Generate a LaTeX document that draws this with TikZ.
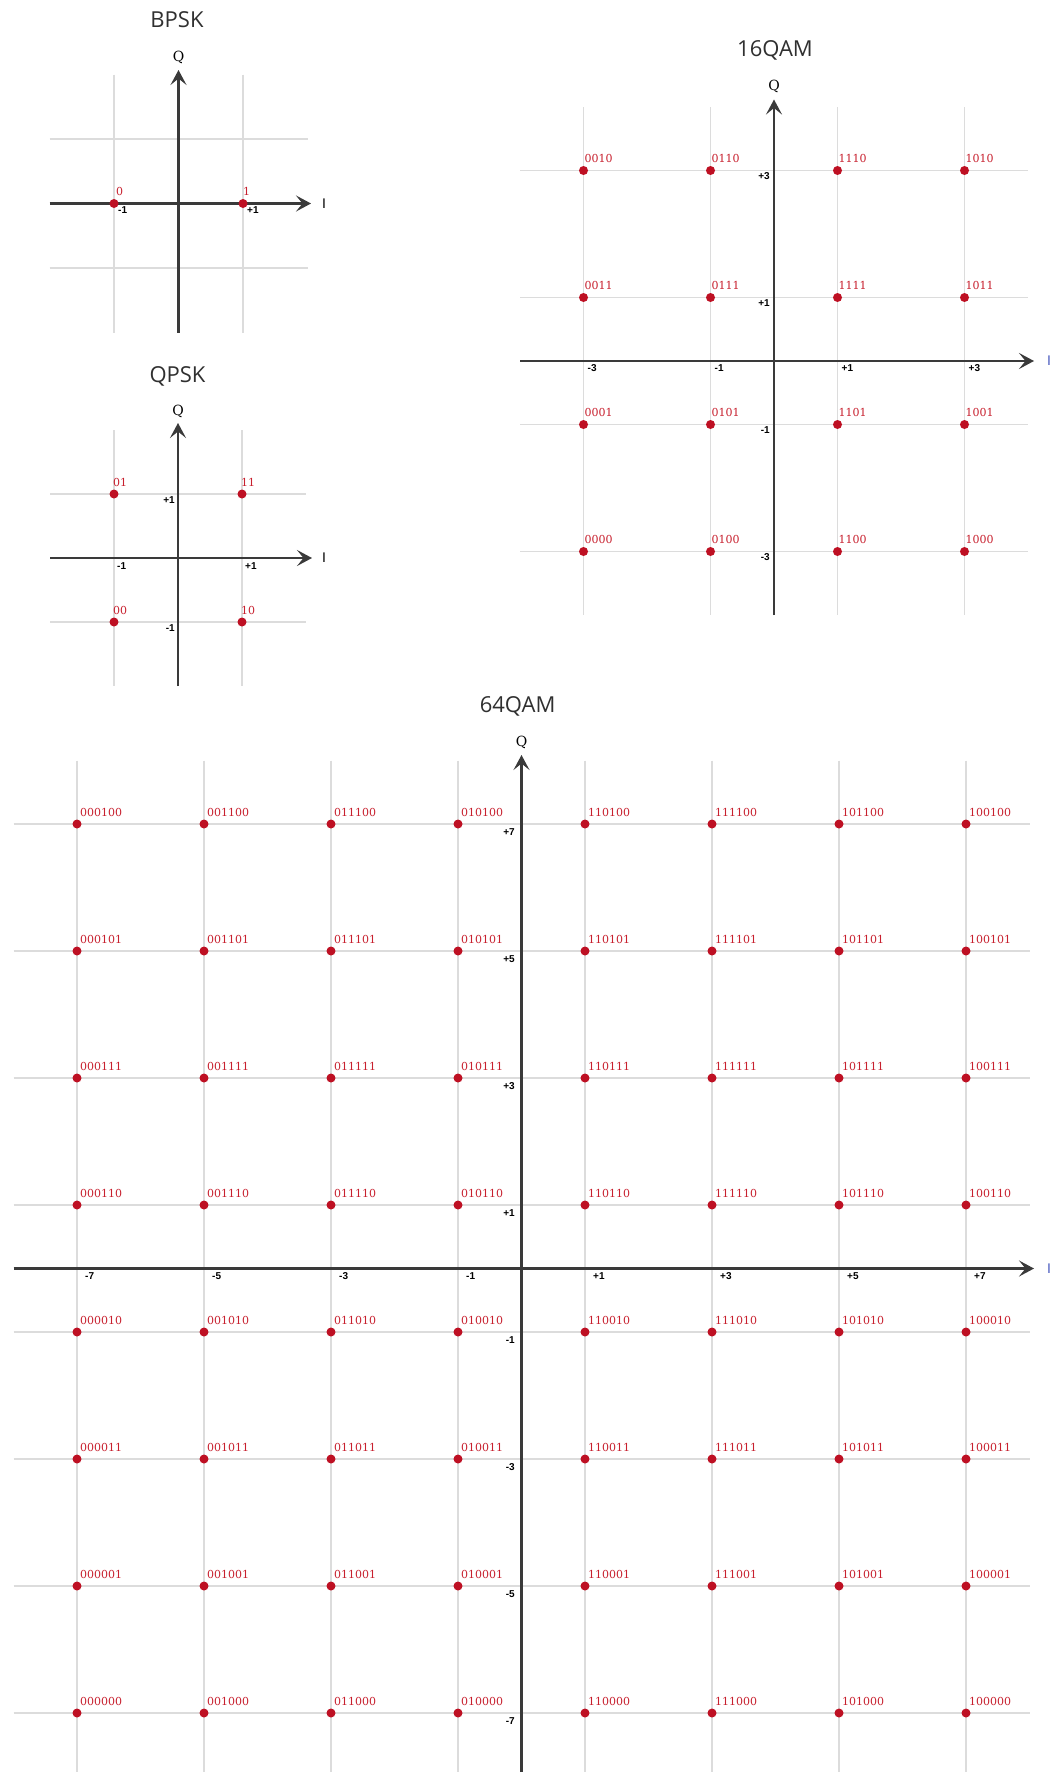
\documentclass[tikz,border=0pt]{standalone}
\usepackage{fontspec}
\setmainfont{DejaVu Serif}
\newfontfamily\titlefont{Open Sans}
\newfontfamily\tickfont{Liberation Sans}
\usetikzlibrary{arrows.meta}
\definecolor{ptred}{HTML}{BE1023}
\definecolor{lblred}{HTML}{C8202E}
\definecolor{gridgray}{HTML}{DCDCDC}
\definecolor{axisgray}{HTML}{3A3A3A}
\definecolor{titlegray}{HTML}{303030}
\definecolor{iblue}{HTML}{4A5CC0}
\tikzset{
  gridline/.style={draw=gridgray, line width=1.4pt},
  axisline/.style={draw=axisgray, line width=2.2pt, -{Stealth[length=15pt,width=16pt,inset=6.5pt]}},
  cpoint/.style={circle, fill=ptred, inner sep=0pt, minimum size=9pt},
  ptlabel/.style={font=\fontsize{11}{12}\selectfont, text=lblred, anchor=base west, inner sep=0pt},
  ticklbl/.style={font=\tickfont\bfseries\fontsize{10}{11}\selectfont, text=black, inner sep=0pt},
  titlelbl/.style={font=\titlefont\fontsize{22}{24}\selectfont, text=titlegray, inner sep=0pt},
  qlbl/.style={font=\fontsize{14}{15}\selectfont, text=black, inner sep=0pt},
  ilbl/.style={font=\tickfont\fontsize{14}{15}\selectfont, inner sep=0pt},
}
\begin{document}
\begin{tikzpicture}[x=1pt,y=-1pt]
\useasboundingbox[fill=white] (0,0) rectangle (1050,1772);
\clip (0,0) rectangle (1050,1772);

% ================= BPSK =================
\node[titlelbl] (tbpsk) at (177,20) {BPSK};
\foreach \x in {114,243} \draw[gridline] (\x,74.5) -- (\x,332.5);
\foreach \y in {139,268} \draw[gridline] (49.5,\y) -- (307.5,\y);
\coordinate (bI0) at (49.5,203.5);
\coordinate (bI1) at (311,203.5);
\coordinate (bQ0) at (178.5,332.5);
\coordinate (bQ1) at (178.5,70);
\draw[axisline] (bI0) -- (bI1);
\draw[axisline] (bQ0) -- (bQ1);
\node[qlbl] (bQ) at (178.5,57) {Q};
\node[ilbl] (bI) at (324,203.5) {I};
\node[cpoint] (b0) at (114,203.5) {};
\node[cpoint] (b1) at (243,203.5) {};
\node[ptlabel] at ([xshift=2pt,yshift=8pt]b0.center) {0};
\node[ptlabel] at ([xshift=0pt,yshift=8pt]b1.center) {1};
\node[ticklbl, anchor=north west] at ([xshift=4pt,yshift=-3pt]b0.center) {-1};
\node[ticklbl, anchor=north west] at ([xshift=4pt,yshift=-3pt]b1.center) {+1};

% ================= QPSK =================
\node[titlelbl] (tqpsk) at (177.5,376) {QPSK};
\foreach \x in {114,242} \draw[gridline] (\x,430) -- (\x,686);
\foreach \y in {494,622} \draw[gridline] (50,\y) -- (306,\y);
\coordinate (qI0) at (50,558);
\coordinate (qI1) at (312,558);
\coordinate (qQ0) at (178,686);
\coordinate (qQ1) at (178,423);
\draw[axisline] (qI0) -- (qI1);
\draw[axisline] (qQ0) -- (qQ1);
\node[qlbl] (qQ) at (178,411) {Q};
\node[ilbl] (qI) at (324,558) {I};
\foreach \px/\py/\lab in {114/494/01,242/494/11,114/622/00,242/622/10}{
  \node[cpoint] (q\lab) at (\px,\py) {};
  \node[ptlabel] at ([xshift=-1pt,yshift=8pt]q\lab.center) {\lab};
}
\node[ticklbl, anchor=north west] at (117,562) {-1};
\node[ticklbl, anchor=north west] at (245,562) {+1};
\node[ticklbl, anchor=north east] at (175,496) {+1};
\node[ticklbl, anchor=north east] at (175,624) {-1};

% ================= 16QAM =================
\node[titlelbl] (t16) at (775,50) {16QAM};
\foreach \iv in {-3,-1,1,3} \draw[gridline] ({774+(\iv)*63.5},107) -- ({774+(\iv)*63.5},615);
\foreach \qv in {-3,-1,1,3} \draw[gridline] (520,{361-(\qv)*63.5}) -- (1028,{361-(\qv)*63.5});
\coordinate (sI0) at (520,361);
\coordinate (sI1) at (1034,361);
\coordinate (sQ0) at (774,615);
\coordinate (sQ1) at (774,99.5);
\draw[axisline] (sI0) -- (sI1);
\draw[axisline] (sQ0) -- (sQ1);
\node[qlbl] (sQ) at (774,86) {Q};
\node[ilbl, text=iblue] (sI) at (1049,361) {I};
\foreach \iv/\ib in {-3/00,-1/01,1/11,3/10}{
  \foreach \qv/\qb in {3/10,1/11,-1/01,-3/00}{
    \node[cpoint] (s\ib\qb) at ({774+(\iv)*63.5},{361-(\qv)*63.5}) {};
    \node[ptlabel] at ([xshift=1pt,yshift=8pt]s\ib\qb.center) {\ib\qb};
  }
}
\foreach \iv/\t in {-3/-3,-1/-1,1/+1,3/+3}
  \node[ticklbl, anchor=north west] at ({774+(\iv)*63.5+4},364) {\t};
\foreach \qv/\t in {-3/-3,-1/-1,1/+1,3/+3}
  \node[ticklbl, anchor=north east] at (770,{361-(\qv)*63.5+2}) {\t};

% ================= 64QAM =================
\node[titlelbl] (t64) at (517.6,706) {64QAM};
\foreach \iv in {-7,-5,-3,-1,1,3,5,7} \draw[gridline] ({521.5+(\iv)*63.5},760.5) -- ({521.5+(\iv)*63.5},1780);
\foreach \qv in {-7,-5,-3,-1,1,3,5,7} \draw[gridline] (13.5,{1268.5-(\qv)*63.5}) -- (1029.5,{1268.5-(\qv)*63.5});
\coordinate (gI0) at (13.5,1268.5);
\coordinate (gI1) at (1034,1268.5);
\coordinate (gQ0) at (521.5,1780);
\coordinate (gQ1) at (521.5,755);
\draw[axisline] (gI0) -- (gI1);
\draw[axisline] (gQ0) -- (gQ1);
\node[qlbl] (gQ) at (521.5,742.5) {Q};
\node[ilbl, text=iblue] (gI) at (1049,1268.5) {I};
\foreach \iv/\ib in {-7/000,-5/001,-3/011,-1/010,1/110,3/111,5/101,7/100}{
  \foreach \qv/\qb in {7/100,5/101,3/111,1/110,-1/010,-3/011,-5/001,-7/000}{
    \node[cpoint] (g\ib\qb) at ({521.5+(\iv)*63.5},{1268.5-(\qv)*63.5}) {};
    \node[ptlabel] at ([xshift=3pt,yshift=8pt]g\ib\qb.center) {\ib\qb};
  }
}
\foreach \iv/\t in {-7/-7,-5/-5,-3/-3,-1/-1,1/+1,3/+3,5/+5,7/+7}
  \node[ticklbl, anchor=north west] at ({521.5+(\iv)*63.5+8},1272) {\t};
\foreach \qv/\t in {-7/-7,-5/-5,-3/-3,-1/-1,1/+1,3/+3,5/+5,7/+7}
  \node[ticklbl, anchor=north east] at (515,{1268.5-(\qv)*63.5+4}) {\t};
\end{tikzpicture}
\end{document}
